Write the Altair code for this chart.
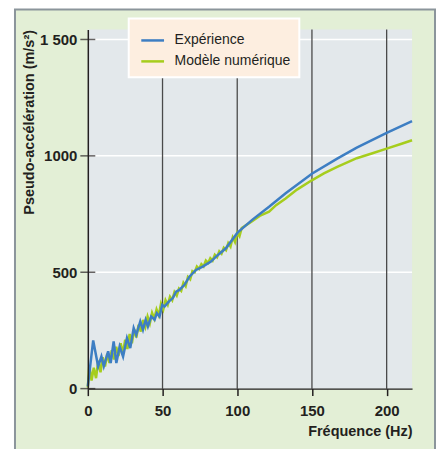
import altair as alt
import pandas as pd

# ---- data ----
series = ["Expérience", "Modèle numérique"]

freq_exp = [0, 3.6, 6.9, 9.1, 10.7, 13.6, 15.3, 17.3, 19.1, 21.3, 23.6, 26.2, 28.4, 30.7, 32.4,
            35.1, 36.9, 38.7, 40.2, 42.4, 44.7, 46.2, 48, 49.8, 51.3, 54.2, 56.9, 59.1, 61.3,
            64.7, 68, 72.4, 76.9, 82.4, 85.8, 92.4, 100.2, 110.2, 121.3, 132.4, 150.2, 166.9,
            180, 200, 217]
acc_exp = [10, 207, 96, 138, 96, 160, 110, 203, 110, 181, 138, 217, 174, 260, 231,
           289, 253, 296, 267, 310, 296, 324, 310, 360, 353, 374, 389, 417, 424,
           446, 481, 510, 524, 546, 567, 603, 670, 726, 781, 839, 924, 988,
           1035, 1099, 1149]

freq_mod = [0, 1, 2.5, 4, 5.5, 7, 8.5, 10, 11.5, 13, 14.5, 16, 17.5, 19, 20.5, 22, 23.5, 25,
            26.5, 28, 29.5, 31, 32.5, 34, 35.5, 37, 38.5, 40, 41.5, 43, 44.5, 46, 47.5, 49,
            50.5, 52, 53.5, 55, 56.5, 58, 59.5, 61, 62.5, 64, 65.5, 67, 68.5, 70, 71.5, 73,
            74.5, 76, 77.5, 79, 80.5, 82, 83.5, 85, 86.5, 88, 89.5, 91, 92.5, 94, 95.5, 97,
            98.5, 100, 101.5, 103, 105, 110.2, 115, 121.3, 126, 132.4, 140, 150.2, 158, 166.9,
            180, 190, 200, 210, 217]
acc_mod = [5, 100, 35, 90, 45, 120, 70, 135, 95, 150, 110, 165, 125, 180, 140, 195, 150, 210,
           170, 235, 195, 255, 220, 275, 245, 295, 265, 310, 280, 325, 300, 340, 315, 365,
           340, 380, 360, 395, 380, 415, 400, 430, 420, 455, 440, 480, 470, 505, 500, 525,
           515, 535, 525, 550, 540, 560, 550, 575, 565, 590, 580, 605, 595, 625, 610, 650,
           630, 670, 655, 690, 698, 720, 742, 760, 788, 817, 855, 896, 925, 953,
           990, 1010, 1031, 1052, 1067]

x_ticks = [0, 50, 100, 150, 200]
y_ticks = [0, 500, 1000, 1500]
x_grid = [50, 100, 150, 200]
y_grid = [500, 1000, 1500]

# ---- styling ----
FONT = "Liberation Sans"
INK = "#231f20"
BLUE = "#3d7ec3"
GREEN = "#a6cd1d"
W, H = 325, 360

df = pd.concat([
    pd.DataFrame({"f": freq_exp, "a": acc_exp, "s": series[0]}),
    pd.DataFrame({"f": freq_mod, "a": acc_mod, "s": series[1]}),
])

xscale = alt.Scale(domain=[0, 217], nice=False, zero=False)
yscale = alt.Scale(domain=[0, 1543], nice=False)

xaxis = alt.Axis(values=x_ticks, title="Fréquence (Hz)", grid=False, zindex=2,
                 domainColor=INK, domainWidth=1.5, tickColor=INK, tickWidth=1.5, tickSize=7,
                 labelFont=FONT, labelFontSize=15, labelFontWeight="bold", labelColor=INK,
                 labelPadding=8, labelFlush=False,
                 titleFont=FONT, titleFontSize=14.5, titleFontWeight="bold", titleColor=INK,
                 titleAnchor="end", titlePadding=6)
yaxis = alt.Axis(values=y_ticks, title="Pseudo-accélération (m/s²)", grid=False, zindex=2,
                 domainColor=INK, domainWidth=1.5, ticks=False,
                 labelExpr="datum.value == 1500 ? '1 500' : '' + datum.value",
                 labelFont=FONT, labelFontSize=15, labelFontWeight="bold", labelColor=INK,
                 labelPadding=11, labelFlush=False,
                 titleFont=FONT, titleFontSize=14.5, titleFontWeight="bold", titleColor=INK,
                 titleAnchor="end", titlePadding=3)

dummy = pd.DataFrame({"k": [0]})

frame = alt.Chart(dummy).mark_rect(fill="#e3efd6", stroke="#8b959b", strokeWidth=2).encode(
    x=alt.value(-73), x2=alt.value(348), y=alt.value(-20), y2=alt.value(460))

plotbg = alt.Chart(dummy).mark_rect(fill="#e3e8eb").encode(
    x=alt.value(0), x2=alt.value(W), y=alt.value(0), y2=alt.value(H))

hgrid = alt.Chart(pd.DataFrame({"a": y_grid})).mark_rule(color="white", strokeWidth=1.5).encode(
    y=alt.Y("a:Q", scale=yscale, axis=yaxis))

vgrid = alt.Chart(pd.DataFrame({"f": x_grid})).mark_rule(color="#4a4a4a", strokeWidth=1.3).encode(
    x=alt.X("f:Q", scale=xscale, axis=xaxis))

color = alt.Color("s:N", scale=alt.Scale(domain=series, range=[BLUE, GREEN]),
                  legend=alt.Legend(title=None, orient="none", legendX=41, legendY=-11,
                                    fillColor="#fdeee0", strokeColor="white",
                                    padding=9, symbolType="stroke", symbolSize=520,
                                    symbolOffset=2,
                                    symbolStrokeWidth=2.5, rowPadding=1, labelOffset=9,
                                    labelFont=FONT, labelFontSize=14, labelColor=INK))

base = alt.Chart(df).mark_line(strokeWidth=2.5, strokeJoin="miter").encode(
    x=alt.X("f:Q", scale=xscale, axis=xaxis),
    y=alt.Y("a:Q", scale=yscale, axis=yaxis),
    color=color,
)
green_line = base.transform_filter(alt.datum.s == series[1])
blue_line = base.transform_filter(alt.datum.s == series[0])

yticks = alt.Chart(pd.DataFrame({"a": y_ticks})).mark_tick(
    orient="horizontal", size=15, thickness=1.5, color=INK).encode(
    y=alt.Y("a:Q", scale=yscale, axis=yaxis), x=alt.value(0))

chart = alt.layer(frame, plotbg, hgrid, vgrid, green_line, blue_line, yticks).properties(
    width=W, height=H, autosize="none",
    padding={"left": 80, "top": 21, "right": 24, "bottom": 60},
    background="white",
).configure_view(stroke=None).configure_legend(strokeWidth=2)

chart.save("out.html", embed_options={"renderer": "svg", "actions": False})
